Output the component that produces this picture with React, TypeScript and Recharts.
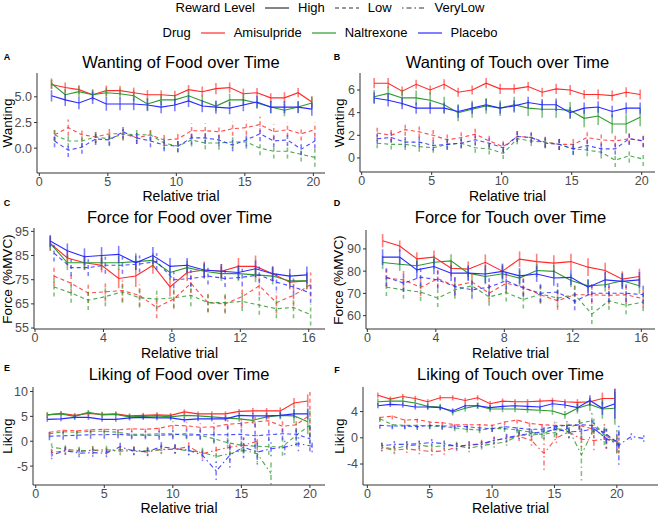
import React from 'react';
import { LineChart, Line, XAxis, YAxis, ErrorBar } from 'recharts';

// relative trial numbers (x categories)
const trials = [1, 2, 3, 4, 5, 6, 7, 8, 9, 10, 11, 12, 13, 14, 15, 16, 17, 18, 19, 20, 21, 22];

const drugNames = ['Amisulpride', 'Naltrexone', 'Placebo'];
const levelNames = ['High', 'Low', 'VeryLow'];

// A: wanting of food
const wfAmiHigh = [6.2, 5.9, 5.7, 5.2, 5.6, 5.6, 5.4, 5.2, 5.2, 5.1, 5.7, 5.5, 5.8, 5.9, 5.3, 5.4, 4.9, 4.9, 5.4, 4.5];
const wfAmiHighSe = [0.45, 0.5, 0.45, 0.45, 0.5, 0.45, 0.5, 0.45, 0.45, 0.5, 0.45, 0.5, 0.55, 0.5, 0.5, 0.45, 0.45, 0.55, 0.45, 0.55];
const wfNalHigh = [6.3, 5.2, 5.5, 5.2, 5.4, 5.3, 5.1, 4.3, 4.7, 4.7, 5.1, 4.6, 4.1, 4.7, 4.7, 4.4, 4.0, 3.7, 4.0, 4.4];
const wfNalHighSe = [0.5, 0.55, 0.5, 0.55, 0.5, 0.5, 0.5, 0.6, 0.55, 0.5, 0.5, 0.55, 0.5, 0.6, 0.55, 0.55, 0.6, 0.6, 0.55, 0.6];
const wfPlaHigh = [5.1, 4.7, 4.4, 4.9, 4.3, 4.3, 4.3, 4.2, 4.0, 4.2, 4.6, 4.1, 4.0, 3.9, 4.2, 4.5, 4.0, 4.0, 4.0, 3.8];
const wfPlaHighSe = [0.55, 0.6, 0.6, 0.6, 0.65, 0.6, 0.6, 0.6, 0.6, 0.6, 0.6, 0.6, 0.65, 0.6, 0.6, 0.6, 0.6, 0.6, 0.6, 0.65];
const wfAmiLow = [1.3, 2.0, 1.3, 1.1, 1.4, 1.4, 1.0, 1.3, 0.8, 0.9, 1.7, 1.7, 1.6, 1.9, 2.0, 2.3, 1.6, 1.8, 1.4, 1.8];
const wfAmiLowSe = [0.6, 0.8, 0.65, 0.6, 0.6, 0.65, 0.6, 0.6, 0.6, 0.6, 0.7, 0.7, 0.65, 0.7, 0.7, 0.75, 0.7, 0.7, 0.65, 0.7];
const wfNalLow = [1.3, 0.7, 0.7, 1.1, 0.9, 1.4, 1.3, 1.3, 0.5, 0.2, 0.8, 0.5, 0.5, 0.6, 0.6, 0.0, -0.3, -0.3, -0.6, -0.9];
const wfNalLowSe = [0.6, 0.6, 0.6, 0.6, 0.6, 0.6, 0.6, 0.65, 0.6, 0.6, 0.65, 0.6, 0.65, 0.6, 0.65, 0.7, 0.7, 0.7, 0.7, 0.9];
const wfPlaLow = [0.7, -0.2, 0.1, 0.9, 0.8, 1.6, 1.0, 0.7, 0.3, 0.2, 1.0, 1.0, 0.8, 0.3, 0.8, 1.4, 0.7, 0.8, -0.1, 0.7];
const wfPlaLowSe = [0.6, 0.65, 0.65, 0.6, 0.6, 0.6, 0.6, 0.6, 0.6, 0.6, 0.65, 0.6, 0.6, 0.6, 0.65, 0.7, 0.6, 0.6, 0.6, 0.7];

// B: wanting of touch
const wtAmiHigh = [6.6, 6.6, 5.9, 6.5, 6.0, 6.5, 5.8, 6.0, 6.6, 6.1, 6.1, 6.3, 5.8, 6.1, 6.0, 5.6, 5.6, 5.5, 5.8, 5.6];
const wtAmiHighSe = [0.45, 0.45, 0.4, 0.4, 0.4, 0.45, 0.4, 0.4, 0.45, 0.45, 0.4, 0.4, 0.4, 0.45, 0.45, 0.4, 0.45, 0.45, 0.45, 0.45];
const wtNalHigh = [5.4, 5.7, 5.3, 5.3, 5.1, 4.7, 4.0, 4.3, 4.6, 4.4, 4.7, 4.4, 4.3, 4.3, 4.2, 3.5, 3.7, 3.0, 3.0, 3.6];
const wtNalHighSe = [0.6, 0.6, 0.7, 0.65, 0.7, 0.7, 0.75, 0.75, 0.7, 0.7, 0.7, 0.7, 0.75, 0.75, 0.75, 0.8, 0.8, 0.85, 0.85, 0.8];
const wtPlaHigh = [5.3, 5.1, 4.8, 4.4, 4.4, 4.4, 4.1, 4.4, 4.7, 4.4, 4.6, 4.9, 4.7, 4.7, 4.0, 4.4, 4.5, 4.1, 4.4, 4.4];
const wtPlaHighSe = [0.5, 0.55, 0.5, 0.5, 0.5, 0.5, 0.55, 0.5, 0.5, 0.5, 0.5, 0.5, 0.5, 0.55, 0.5, 0.5, 0.5, 0.5, 0.5, 0.5];
const wtAmiLow = [2.2, 2.0, 2.5, 2.3, 2.0, 1.6, 1.8, 2.1, 1.5, 1.0, 1.9, 1.8, 1.4, 1.2, 1.2, 1.8, 1.6, 1.5, 1.7, 1.5];
const wtAmiLowSe = [0.5, 0.5, 0.55, 0.5, 0.5, 0.5, 0.5, 0.5, 0.5, 0.5, 0.45, 0.45, 0.5, 0.5, 0.5, 0.5, 0.5, 0.5, 0.5, 0.5];
const wtNalLow = [1.3, 1.2, 1.2, 1.0, 0.9, 1.2, 1.3, 0.9, 0.8, 0.4, 1.7, 1.5, 1.4, 1.2, 0.8, 0.7, 0.5, -0.2, 0.2, -0.1];
const wtNalLowSe = [0.45, 0.45, 0.5, 0.45, 0.45, 0.5, 0.45, 0.45, 0.5, 0.5, 0.5, 0.45, 0.45, 0.5, 0.5, 0.55, 0.55, 0.6, 0.6, 0.6];
const wtPlaLow = [1.7, 1.8, 1.4, 1.4, 1.1, 1.2, 1.3, 1.6, 1.3, 0.9, 1.9, 1.8, 1.3, 1.2, 0.8, 1.1, 0.8, 0.8, 1.7, 1.5];
const wtPlaLowSe = [0.45, 0.45, 0.45, 0.5, 0.45, 0.45, 0.45, 0.45, 0.45, 0.45, 0.5, 0.45, 0.45, 0.5, 0.55, 0.5, 0.5, 0.5, 0.55, 0.55];

// C: force for food
const ffAmiHigh = [90, 84, 82, 81, 75.5, 76.5, 81, 72, 78, 79, 78.5, 80.5, 80.5, 77.5, 74, 74.5];
const ffAmiHighSe = [3, 3, 3, 3, 4, 4.5, 3.5, 4, 3.5, 3.5, 3, 3.5, 4.5, 3, 3, 3.5];
const ffNalHigh = [90, 82, 82, 82, 82, 82.5, 83, 78, 80, 78.5, 77.5, 77.5, 77, 76.5, 74.5, 74.5];
const ffNalHighSe = [3, 3, 3, 3, 3, 3.5, 3, 3, 3, 3, 3, 3, 3, 3.5, 3, 3.5];
const ffPlaHigh = [91, 87, 84.5, 85, 85.5, 82, 85, 80.5, 81, 79, 78.5, 78, 79.5, 77.5, 76.5, 77];
const ffPlaHighSe = [2.5, 3, 3.5, 3.5, 3.5, 3, 3.5, 3.5, 3, 3, 3, 3, 3.5, 3, 3, 3.5];
const ffAmiLow = [76.5, 73.5, 69.5, 70, 70.5, 68.5, 63.5, 67, 73.5, 65.5, 65, 68, 72.5, 65.5, 68.5, 73];
const ffAmiLowSe = [4, 4, 4, 4, 4.5, 4.5, 4.5, 4, 4, 4, 4, 4.5, 4, 4.5, 4.5, 5];
const ffNalLow = [72, 69.5, 66.5, 68, 70, 67.5, 67, 67.5, 68.5, 65.5, 65.5, 66, 64.5, 63, 63.5, 60.5];
const ffNalLowSe = [4, 4, 4, 4, 4.5, 4, 4, 4, 4.5, 4, 4, 4, 4, 4, 4.5, 4.5];
const ffPlaLow = [86, 80, 80, 81, 81, 81.5, 82.5, 75, 75.5, 76.5, 75.5, 76, 77, 74, 72, 69.5];
const ffPlaLowSe = [3.5, 3.5, 3.5, 3.5, 3.5, 3.5, 3.5, 3.5, 3.5, 3.5, 3.5, 3.5, 3.5, 3.5, 3.5, 4];

// D: force for touch
const ftAmiHigh = [93.7, 91.3, 85.5, 86.3, 81.3, 80.9, 84, 80, 85.4, 84.3, 83.6, 84.3, 81.8, 80.3, 76.4, 77.6];
const ftAmiHighSe = [3, 2.5, 3, 3, 3.5, 3.5, 3.5, 3, 3.5, 3.5, 3.5, 3.5, 4, 3.5, 3.5, 3.5];
const ftNalHigh = [83.9, 83.1, 82.4, 84, 84.6, 79.1, 77.6, 78.8, 76.9, 80.3, 79.9, 75.8, 73.4, 73.9, 75.7, 73.4];
const ftNalHighSe = [3, 3, 3, 3, 3, 3, 3.5, 3.5, 3.5, 3, 3, 3, 3, 3, 3.5, 3.5];
const ftPlaHigh = [86.3, 86.3, 80.6, 82.1, 79.1, 79.1, 78.7, 79.9, 77.9, 78.7, 76.9, 77.2, 72.8, 76.1, 75.4, 76.1];
const ftPlaHighSe = [3.5, 3.5, 4, 3.5, 3.5, 3.5, 4, 3.5, 3.5, 3.5, 3.5, 3.5, 3.5, 3.5, 3.5, 3.5];
const ftAmiLow = [76.9, 76.1, 72.7, 76.6, 73.4, 75.1, 70.1, 74.6, 72.8, 69.4, 66.7, 69.4, 69.4, 69.1, 69.4, 67.6];
const ftAmiLowSe = [4, 4, 4, 4, 4, 4, 4, 4, 4, 4, 4, 4, 4, 4, 4, 4];
const ftNalLow = [72.8, 71.6, 70.6, 67.9, 71.6, 73.4, 68.4, 70.4, 67.2, 69.7, 67.9, 69.4, 60.7, 66.7, 64.6, 66.1];
const ftNalLowSe = [4, 4, 4, 4, 4, 4, 4, 4, 4, 4, 4, 4, 4.5, 4, 4, 4];
const ftPlaLow = [77.3, 74.6, 77.3, 76.1, 73.1, 71.6, 72.8, 75.7, 72.4, 70.1, 70.6, 66.4, 70.1, 70.1, 70.1, 69.4];
const ftPlaLowSe = [4, 4, 4, 4, 4, 4, 4, 4, 4, 4, 4, 4, 4, 4, 4, 4];

// E: liking of food
const lfAmiHigh = [5.3, 5.6, 5.2, 5.6, 5.4, 5.5, 5.1, 5.2, 5.3, 5.2, 5.9, 5.5, 5.5, 5.5, 6.0, 6.1, 6.1, 6.1, 7.7, 8.1];
const lfAmiHighSe = [0.5, 0.5, 0.5, 0.5, 0.5, 0.5, 0.5, 0.5, 0.5, 0.5, 0.5, 0.5, 0.5, 0.5, 0.5, 0.6, 0.6, 0.7, 1.0, 1.3];
const lfNalHigh = [5.3, 5.5, 5.0, 5.8, 5.3, 5.4, 4.9, 5.0, 5.1, 4.9, 5.2, 5.1, 4.9, 4.7, 4.5, 4.2, 4.9, 5.2, 5.1, 3.9];
const lfNalHighSe = [0.5, 0.5, 0.5, 0.5, 0.5, 0.5, 0.5, 0.5, 0.5, 0.5, 0.5, 0.5, 0.5, 0.6, 0.6, 0.7, 0.7, 0.8, 1.5, 2.5];
const lfPlaHigh = [4.4, 4.5, 4.8, 4.8, 4.4, 4.4, 4.7, 4.8, 4.7, 4.7, 4.3, 4.5, 4.5, 4.5, 5.2, 5.1, 5.1, 5.2, 5.5, 5.5];
const lfPlaHighSe = [0.5, 0.5, 0.5, 0.5, 0.5, 0.5, 0.5, 0.5, 0.5, 0.5, 0.5, 0.5, 0.5, 0.5, 0.5, 0.6, 0.6, 0.6, 0.9, 1.1];
const lfAmiLow = [1.8, 2.2, 2.1, 2.3, 2.4, 2.3, 2.5, 2.4, 2.6, 3.2, 3.1, 2.8, 2.9, 3.4, 3.6, 3.9, 4.1, 3.0, 3.3, 5.3];
const lfAmiLowSe = [0.7, 0.7, 0.7, 0.7, 0.7, 0.7, 0.7, 0.7, 0.7, 0.8, 0.8, 0.8, 0.8, 0.9, 0.9, 1.0, 1.0, 1.2, 1.5, 4.6];
const lfNalLow = [1.5, 1.9, 1.8, 2.0, 2.0, 1.8, 1.4, 1.4, 1.5, 1.5, 1.2, 1.2, 0.5, -0.3, -0.8, -1.0, -1.1, -1.1, 1.2, 3.2];
const lfNalLowSe = [0.7, 0.7, 0.7, 0.7, 0.7, 0.7, 0.7, 0.7, 0.7, 0.8, 0.8, 0.8, 1.0, 1.2, 1.3, 1.5, 1.6, 1.8, 2.2, 3.5];
const lfPlaLow = [1.0, 1.1, 1.2, 1.3, 1.3, 1.4, 1.2, 1.2, 1.2, 1.3, 1.5, 1.3, 1.3, 1.3, 1.4, 1.1, 1.3, 1.5, 1.4, 0.5];
const lfPlaLowSe = [0.8, 0.8, 0.8, 0.8, 0.8, 0.8, 0.8, 0.8, 0.9, 0.9, 0.9, 1.0, 1.5, 1.8, 2.5, 2.6, 1.2, 1.2, 1.3, 2.5];
const lfAmiVL = [-2.3, -1.9, -2.1, -1.8, -2.1, -1.7, -1.8, -2.2, -1.6, -1.6, -1.1, -2.5, -1.8, -1.2, -0.8, 0.0];
const lfAmiVLSe = [0.8, 0.8, 0.8, 0.8, 0.8, 0.8, 0.8, 0.8, 0.9, 0.9, 1.0, 1.0, 1.2, 1.2, 1.4, 1.5];
const lfNalVL = [-1.2, -1.6, -1.9, -1.8, -1.7, -2.0, -1.9, -1.9, -1.7, -1.6, -1.9, -2.2, -3.1, -2.5, -1.8, -2.5, -6.5];
const lfNalVLSe = [0.8, 0.8, 0.8, 0.8, 0.8, 0.8, 0.8, 0.8, 0.8, 0.9, 0.9, 1.0, 1.2, 1.4, 1.6, 1.8, 2.2];
const lfPlaVL = [-2.8, -1.9, -2.4, -2.3, -2.4, -1.1, -2.0, -2.1, -1.1, -1.5, -1.8, -2.8, -6.0, -2.8, -1.2, -2.2, -1.5, -1.2, -0.5, -1.0];
const lfPlaVLSe = [0.8, 0.8, 0.8, 0.8, 0.8, 0.8, 0.8, 0.8, 0.9, 0.9, 1.0, 1.2, 1.8, 2.5, 2.0, 2.5, 1.5, 1.5, 1.5, 1.2];

// F: liking of touch
const ltAmiHigh = [6.5, 5.9, 6.3, 6.0, 5.5, 6.1, 6.1, 5.7, 6.1, 5.2, 5.6, 5.5, 5.5, 5.6, 5.7, 5.5, 5.4, 5.5, 6.0, 6.0];
const ltAmiHighSe = [0.4, 0.4, 0.4, 0.4, 0.4, 0.4, 0.4, 0.4, 0.4, 0.4, 0.4, 0.4, 0.4, 0.4, 0.4, 0.4, 0.5, 0.6, 0.9, 1.5];
const ltNalHigh = [5.5, 5.6, 5.6, 5.3, 4.8, 4.7, 3.9, 4.5, 4.9, 4.4, 4.4, 4.4, 4.3, 4.2, 4.1, 3.5, 4.5, 5.1, 4.4, 4.5];
const ltNalHighSe = [0.5, 0.5, 0.5, 0.5, 0.5, 0.5, 0.5, 0.5, 0.5, 0.5, 0.5, 0.5, 0.5, 0.5, 0.6, 0.6, 0.8, 1.0, 1.5, 2.5];
const ltPlaHigh = [4.9, 5.1, 5.0, 4.7, 4.7, 4.6, 4.1, 4.9, 4.9, 4.6, 4.8, 4.9, 4.8, 4.7, 5.2, 5.0, 4.6, 5.7, 4.5, 5.2];
const ltPlaHighSe = [0.4, 0.4, 0.4, 0.4, 0.4, 0.4, 0.4, 0.4, 0.4, 0.4, 0.4, 0.4, 0.4, 0.4, 0.5, 0.5, 0.6, 0.8, 1.0, 2.3];
const ltAmiLow = [3.1, 3.3, 2.7, 2.8, 2.4, 2.3, 2.0, 2.0, 2.0, 1.9, 2.4, 2.7, 2.2, 2.0, 1.9, 1.9, 1.9, 1.4, 0.9, -0.8];
const ltAmiLowSe = [0.5, 0.5, 0.5, 0.5, 0.5, 0.5, 0.5, 0.5, 0.5, 0.5, 0.5, 0.5, 0.5, 0.5, 0.6, 0.6, 0.7, 0.9, 1.2, 1.5];
const ltNalLow = [2.9, 2.0, 1.9, 1.9, 1.8, 1.7, 1.5, 1.3, 1.2, 1.4, 1.4, 1.2, 0.9, 0.5, 0.8, 1.4, 2.2, 2.6, 0.4, -0.6];
const ltNalLowSe = [0.5, 0.5, 0.5, 0.5, 0.5, 0.5, 0.5, 0.5, 0.5, 0.5, 0.5, 0.5, 0.6, 0.6, 0.7, 0.8, 1.0, 1.2, 1.5, 1.8];
const ltPlaLow = [1.9, 1.8, 1.8, 1.7, 1.9, 1.8, 1.8, 1.7, 1.5, 1.4, 1.7, 1.5, 1.3, 1.3, 1.7, 1.9, 2.0, 1.9, 0.7, -0.6];
const ltPlaLowSe = [0.5, 0.5, 0.5, 0.5, 0.5, 0.5, 0.5, 0.5, 0.5, 0.5, 0.5, 0.5, 0.5, 0.5, 0.6, 0.6, 0.6, 0.8, 1.0, 1.2];
const ltAmiVL = [-1.5, -1.9, -1.7, -1.9, -2.1, -2.0, -1.4, -1.1, -0.9, -0.4, -0.1, 0.2, -0.4, -2.4, 0.0, 0.9, -0.2, -0.4, -0.2, -0.9];
const ltAmiVLSe = [0.6, 0.6, 0.6, 0.6, 0.6, 0.6, 0.6, 0.6, 0.6, 0.6, 0.6, 0.7, 0.8, 2.5, 0.8, 1.0, 1.2, 1.5, 1.5, 1.5];
const ltNalVL = [-1.4, -1.7, -1.2, -1.1, -1.4, -1.2, -1.2, -1.6, -1.2, -0.9, -0.6, 0.4, 0.4, 0.7, 1.4, 1.2, -2.6, 1.4, -0.1, -0.6];
const ltNalVLSe = [0.6, 0.6, 0.6, 0.6, 0.6, 0.6, 0.6, 0.6, 0.6, 0.6, 0.6, 0.7, 0.8, 0.9, 1.0, 1.2, 3.9, 1.5, 1.5, 1.5];
const ltPlaVL = [-1.2, -1.0, -1.0, -0.9, -0.7, -0.9, -1.3, -1.1, -1.0, -0.4, 0.0, 0.4, 0.7, 0.9, 1.3, 0.9, 1.0, 1.4, -0.1, -1.1, 0.2, -0.1];
const ltPlaVLSe = [0.5, 0.5, 0.5, 0.5, 0.5, 0.5, 0.5, 0.5, 0.5, 0.5, 0.6, 0.6, 0.6, 0.7, 0.8, 0.9, 1.0, 1.2, 1.5, 3.0, 0.5, 0.5];

const colors = ['#ff2a2a', '#2e9a2e', '#2a2aff'];
const dashes = [undefined, '4 3', '1.5 3 5 3'];
const font = '"Liberation Sans", Arial, Helvetica, sans-serif';

type Series = { drug: number; level: number; y: number[]; se: number[] };

const panels = [
  {
    letter: 'A', title: 'Wanting of Food over Time', yLabel: 'Wanting', col: 0,
    box: [37, 73, 325, 173], xDomain: [-0.17, 20.85], yDomain: [-2.42, 7.32],
    xTicks: [0, 5, 10, 15, 20], yTicks: [0, 2.5, 5], fmt: (v: number) => v.toFixed(1),
    titleY: 62, letterY: 57, xLabelY: 196, yLabelX: 7.5,
    series: [
      { drug: 0, level: 0, y: wfAmiHigh, se: wfAmiHighSe },
      { drug: 1, level: 0, y: wfNalHigh, se: wfNalHighSe },
      { drug: 2, level: 0, y: wfPlaHigh, se: wfPlaHighSe },
      { drug: 0, level: 1, y: wfAmiLow, se: wfAmiLowSe },
      { drug: 1, level: 1, y: wfNalLow, se: wfNalLowSe },
      { drug: 2, level: 1, y: wfPlaLow, se: wfPlaLowSe },
    ] as Series[],
  },
  {
    letter: 'B', title: 'Wanting of Touch over Time', yLabel: 'Wanting', col: 1,
    box: [360, 73, 655, 172], xDomain: [-0.12, 20.95], yDomain: [-1.24, 7.5],
    xTicks: [0, 5, 10, 15, 20], yTicks: [0, 2, 4, 6], fmt: (v: number) => String(v),
    titleY: 62, letterY: 57, xLabelY: 196, yLabelX: 340,
    series: [
      { drug: 0, level: 0, y: wtAmiHigh, se: wtAmiHighSe },
      { drug: 1, level: 0, y: wtNalHigh, se: wtNalHighSe },
      { drug: 2, level: 0, y: wtPlaHigh, se: wtPlaHighSe },
      { drug: 0, level: 1, y: wtAmiLow, se: wtAmiLowSe },
      { drug: 1, level: 1, y: wtNalLow, se: wtNalLowSe },
      { drug: 2, level: 1, y: wtPlaLow, se: wtPlaLowSe },
    ] as Series[],
  },
  {
    letter: 'C', title: 'Force for Food over Time', yLabel: 'Force (%MVC)', col: 0,
    box: [34, 228, 325, 329], xDomain: [-0.06, 16.95], yDomain: [54.6, 96.4],
    xTicks: [0, 4, 8, 12, 16], yTicks: [55, 65, 75, 85, 95], fmt: (v: number) => String(v),
    titleY: 217, letterY: 203, xLabelY: 352.5, yLabelX: 8,
    series: [
      { drug: 0, level: 0, y: ffAmiHigh, se: ffAmiHighSe },
      { drug: 1, level: 0, y: ffNalHigh, se: ffNalHighSe },
      { drug: 2, level: 0, y: ffPlaHigh, se: ffPlaHighSe },
      { drug: 0, level: 1, y: ffAmiLow, se: ffAmiLowSe },
      { drug: 1, level: 1, y: ffNalLow, se: ffNalLowSe },
      { drug: 2, level: 1, y: ffPlaLow, se: ffPlaLowSe },
    ] as Series[],
  },
  {
    letter: 'D', title: 'Force for Touch over Time', yLabel: 'Force (%MVC)', col: 1,
    box: [366, 230, 655, 329], xDomain: [-0.08, 16.8], yDomain: [54.0, 98.5],
    xTicks: [0, 4, 8, 12, 16], yTicks: [60, 70, 80, 90], fmt: (v: number) => String(v),
    titleY: 217, letterY: 203, xLabelY: 352.5, yLabelX: 339,
    series: [
      { drug: 0, level: 0, y: ftAmiHigh, se: ftAmiHighSe },
      { drug: 1, level: 0, y: ftNalHigh, se: ftNalHighSe },
      { drug: 2, level: 0, y: ftPlaHigh, se: ftPlaHighSe },
      { drug: 0, level: 1, y: ftAmiLow, se: ftAmiLowSe },
      { drug: 1, level: 1, y: ftNalLow, se: ftNalLowSe },
      { drug: 2, level: 1, y: ftPlaLow, se: ftPlaLowSe },
    ] as Series[],
  },
  {
    letter: 'E', title: 'Liking of Food over Time', yLabel: 'Liking', col: 0,
    box: [33, 387, 325, 485], xDomain: [-0.2, 21.1], yDomain: [-8.8, 10.9],
    xTicks: [0, 5, 10, 15, 20], yTicks: [-5, 0, 5, 10], fmt: (v: number) => String(v),
    titleY: 374, letterY: 368, xLabelY: 507.5, yLabelX: 8,
    series: [
      { drug: 0, level: 0, y: lfAmiHigh, se: lfAmiHighSe },
      { drug: 1, level: 0, y: lfNalHigh, se: lfNalHighSe },
      { drug: 2, level: 0, y: lfPlaHigh, se: lfPlaHighSe },
      { drug: 0, level: 1, y: lfAmiLow, se: lfAmiLowSe },
      { drug: 1, level: 1, y: lfNalLow, se: lfNalLowSe },
      { drug: 2, level: 1, y: lfPlaLow, se: lfPlaLowSe },
      { drug: 0, level: 2, y: lfAmiVL, se: lfAmiVLSe },
      { drug: 1, level: 2, y: lfNalVL, se: lfNalVLSe },
      { drug: 2, level: 2, y: lfPlaVL, se: lfPlaVLSe },
    ] as Series[],
  },
  {
    letter: 'F', title: 'Liking of Touch over Time', yLabel: 'Liking', col: 1,
    box: [363, 387, 658, 485], xDomain: [-0.35, 23.3], yDomain: [-7.2, 7.75],
    xTicks: [0, 5, 10, 15, 20], yTicks: [-4, 0, 4], fmt: (v: number) => String(v),
    titleY: 374, letterY: 370, xLabelY: 507.5, yLabelX: 340,
    series: [
      { drug: 0, level: 0, y: ltAmiHigh, se: ltAmiHighSe },
      { drug: 1, level: 0, y: ltNalHigh, se: ltNalHighSe },
      { drug: 2, level: 0, y: ltPlaHigh, se: ltPlaHighSe },
      { drug: 0, level: 1, y: ltAmiLow, se: ltAmiLowSe },
      { drug: 1, level: 1, y: ltNalLow, se: ltNalLowSe },
      { drug: 2, level: 1, y: ltPlaLow, se: ltPlaLowSe },
      { drug: 0, level: 2, y: ltAmiVL, se: ltAmiVLSe },
      { drug: 1, level: 2, y: ltNalVL, se: ltNalVLSe },
      { drug: 2, level: 2, y: ltPlaVL, se: ltPlaVLSe },
    ] as Series[],
  },
];

const axisColor = '#333333';
const tickStyle = { fontSize: 12.5, fill: '#4d4d4d', fontFamily: font };

const Text = ({ x, y, children, size = 14, bold = false, rotate = false }: any) => (
  <div
    style={{
      position: 'absolute', left: x, top: y, whiteSpace: 'nowrap', fontSize: size,
      fontWeight: bold ? 700 : 400, lineHeight: 1, color: '#000',
      transform: `translate(-50%, -50%)${rotate ? ' rotate(-90deg)' : ''}`,
    }}
  >
    {children}
  </div>
);

const Panel = ({ p }: { p: (typeof panels)[number] }) => {
  const [bl, bt, br, bb] = p.box;
  const colX = p.col * 330;
  const top = bt - 6;
  const axisH = 22;
  const nLevels = p.series.some((s) => s.level === 2) ? 3 : 2;
  const dodge = nLevels === 3 ? [-0.16, 0, 0.16] : [-0.11, 0.11, 0];
  return (
    <>
      <div style={{ position: 'absolute', left: colX, top }}>
        <LineChart width={330} height={bb - top + axisH} margin={{ top: 6, right: colX + 330 - br, bottom: 0, left: 0 }}>
          <XAxis
            type="number" dataKey="x" domain={p.xDomain} ticks={p.xTicks} allowDataOverflow interval={0}
            height={axisH} tick={tickStyle} tickSize={3} tickMargin={1}
            axisLine={{ stroke: axisColor }} tickLine={{ stroke: axisColor }}
          />
          <YAxis
            type="number" domain={p.yDomain} ticks={p.yTicks} allowDataOverflow interval={0}
            width={bl - colX} tick={tickStyle} tickSize={3} tickMargin={2} tickFormatter={p.fmt}
            axisLine={{ stroke: axisColor }} tickLine={{ stroke: axisColor }}
          />
          {p.series.map((s) => {
            const data = s.y.map((v, i) => ({ x: trials[i] + dodge[s.level], y: v, e: s.se[i] }));
            return (
              <Line
                key={`${s.drug}-${s.level}`}
                name={`${drugNames[s.drug]} ${levelNames[s.level]}`}
                data={data} dataKey="y" type="linear" dot={false} isAnimationActive={false}
                stroke={colors[s.drug]} strokeWidth={1.1} strokeDasharray={dashes[s.level]}
                strokeOpacity={s.level === 0 ? 1 : 0.85}
              >
                <ErrorBar
                  dataKey="e" direction="y" width={0} stroke={colors[s.drug]} strokeWidth={1.6}
                  strokeOpacity={0.6} strokeDasharray={dashes[s.level]} isAnimationActive={false}
                />
              </Line>
            );
          })}
        </LineChart>
      </div>
      <Text x={colX + 7} y={p.letterY} size={9} bold>{p.letter}</Text>
      <Text x={(bl + br) / 2} y={p.titleY} size={16.5}>{p.title}</Text>
      <Text x={(bl + br) / 2} y={p.xLabelY} size={14}>Relative trial</Text>
      <Text x={p.yLabelX} y={(bt + bb) / 2} size={13.5} rotate>{p.yLabel}</Text>
    </>
  );
};

const KeyLine = ({ color = '#333', dash }: { color?: string; dash?: string }) => (
  <svg width={24} height={10} style={{ margin: '0 9px 0 10px' }}>
    <line x1={0} y1={5} x2={24} y2={5} stroke={color} strokeWidth={1.2} strokeDasharray={dash} />
  </svg>
);

const legendRow: React.CSSProperties = {
  position: 'absolute', left: 0, width: 660, display: 'flex', justifyContent: 'center',
  alignItems: 'center', fontSize: 13, lineHeight: 1, color: '#000',
};

export default function App() {
  return (
    <div style={{ position: 'absolute', left: 0, top: 0, width: 660, height: 515, background: '#fff', fontFamily: font }}>
      <div style={{ ...legendRow, top: 1 }}>
        <span>Reward Level</span>
        {levelNames.map((l, i) => (
          <React.Fragment key={l}>
            <KeyLine dash={dashes[i]} />
            <span>{l}</span>
          </React.Fragment>
        ))}
      </div>
      <div style={{ ...legendRow, top: 26 }}>
        <span>Drug</span>
        {drugNames.map((d, i) => (
          <React.Fragment key={d}>
            <KeyLine color={colors[i]} />
            <span>{d}</span>
          </React.Fragment>
        ))}
      </div>
      {panels.map((p) => (
        <Panel key={p.letter} p={p} />
      ))}
    </div>
  );
}
